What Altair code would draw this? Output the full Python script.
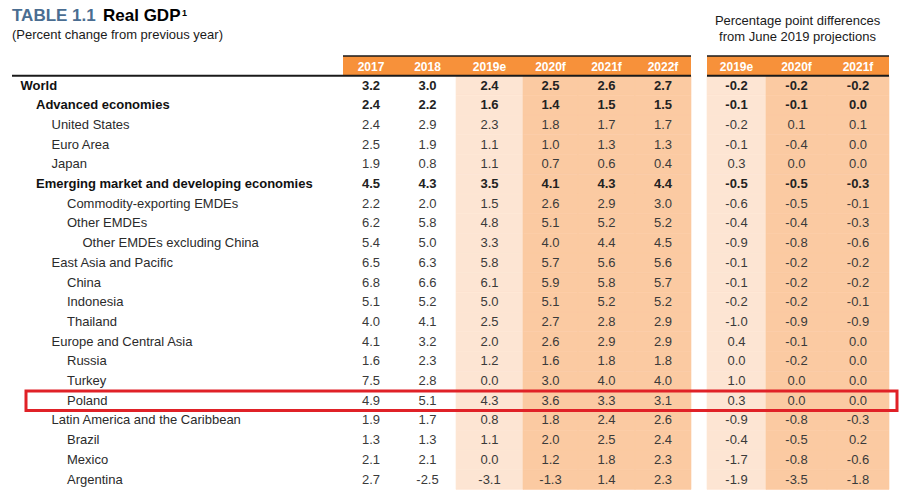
import altair as alt
import pandas as pd

# ---------------- data ----------------
rows = ["World", "Advanced economies", "United States", "Euro Area", "Japan",
        "Emerging market and developing economies", "Commodity-exporting EMDEs",
        "Other EMDEs", "Other EMDEs excluding China", "East Asia and Pacific",
        "China", "Indonesia", "Thailand", "Europe and Central Asia", "Russia",
        "Turkey", "Poland", "Latin America and the Caribbean", "Brazil",
        "Mexico", "Argentina"]
indent = [0, 1, 2, 2, 2, 1, 3, 3, 4, 2, 3, 3, 3, 2, 3, 3, 3, 2, 3, 3, 3]
bold_rows = ["World", "Advanced economies", "Emerging market and developing economies"]

headers = ["2017", "2018", "2019e", "2020f", "2021f", "2022f", "2019e", "2020f", "2021f"]
col_ids = ["y2017", "y2018", "y2019e", "y2020f", "y2021f", "y2022f", "d2019e", "d2020f", "d2021f"]

y2017 = [3.2, 2.4, 2.4, 2.5, 1.9, 4.5, 2.2, 6.2, 5.4, 6.5, 6.8, 5.1, 4.0, 4.1, 1.6, 7.5, 4.9, 1.9, 1.3, 2.1, 2.7]
y2018 = [3.0, 2.2, 2.9, 1.9, 0.8, 4.3, 2.0, 5.8, 5.0, 6.3, 6.6, 5.2, 4.1, 3.2, 2.3, 2.8, 5.1, 1.7, 1.3, 2.1, -2.5]
y2019e = [2.4, 1.6, 2.3, 1.1, 1.1, 3.5, 1.5, 4.8, 3.3, 5.8, 6.1, 5.0, 2.5, 2.0, 1.2, 0.0, 4.3, 0.8, 1.1, 0.0, -3.1]
y2020f = [2.5, 1.4, 1.8, 1.0, 0.7, 4.1, 2.6, 5.1, 4.0, 5.7, 5.9, 5.1, 2.7, 2.6, 1.6, 3.0, 3.6, 1.8, 2.0, 1.2, -1.3]
y2021f = [2.6, 1.5, 1.7, 1.3, 0.6, 4.3, 2.9, 5.2, 4.4, 5.6, 5.8, 5.2, 2.8, 2.9, 1.8, 4.0, 3.3, 2.4, 2.5, 1.8, 1.4]
y2022f = [2.7, 1.5, 1.7, 1.3, 0.4, 4.4, 3.0, 5.2, 4.5, 5.6, 5.7, 5.2, 2.9, 2.9, 1.8, 4.0, 3.1, 2.6, 2.4, 2.3, 2.3]
d2019e = [-0.2, -0.1, -0.2, -0.1, 0.3, -0.5, -0.6, -0.4, -0.9, -0.1, -0.1, -0.2, -1.0, 0.4, 0.0, 1.0, 0.3, -0.9, -0.4, -1.7, -1.9]
d2020f = [-0.2, -0.1, 0.1, -0.4, 0.0, -0.5, -0.5, -0.4, -0.8, -0.2, -0.2, -0.2, -0.9, -0.1, -0.2, 0.0, 0.0, -0.8, -0.5, -0.8, -3.5]
d2021f = [-0.2, 0.0, 0.1, 0.0, 0.0, -0.3, -0.1, -0.3, -0.6, -0.2, -0.2, -0.1, -0.9, 0.0, 0.0, 0.0, 0.0, -0.3, 0.2, -0.6, -1.8]
series = [y2017, y2018, y2019e, y2020f, y2021f, y2022f, d2019e, d2020f, d2021f]

highlight_row = "Poland"

# ---------------- layout (pixel geometry, separate from data) ----------------
W, H = 904, 483
col_left = [343, 399, 456, 523, 578, 635, 707, 766, 827]
col_right = [399, 456, 523, 578, 635, 691, 766, 827, 889]
col_shade = ["none", "none", "light", "dark", "dark", "dark", "light", "dark", "dark"]
label_x0, label_step = 20.5, 15.5
row_top, row_h = 56 - 8, 19.7
HDR = "__hdr"
FONT = "Liberation Sans"

ORANGE = "#f7913a"
DARK = "#fbcaa2"
LIGHT = "#fde5d3"
TXT = "#2b2b2b"

xs = alt.Scale(domain=[8, 8 + W], range=[0, W])
ydomain = [HDR] + rows
ys = alt.Scale(domain=ydomain, range=[row_top, row_top + row_h * len(ydomain)],
               paddingInner=0, paddingOuter=0)

# ---------------- tables ----------------
cells = []
for ci, cid in enumerate(col_ids):
    for ri, r in enumerate(rows):
        cells.append({
            "row": r, "col": cid,
            "xc": (col_left[ci] + col_right[ci]) / 2,
            "val": f"{series[ci][ri]:.1f}",
            "bold": r in bold_rows,
        })
cells = pd.DataFrame(cells)

shade = []
for ci, cid in enumerate(col_ids):
    if col_shade[ci] == "none":
        continue
    for r in rows:
        shade.append({"row": r, "x0": col_left[ci], "x1": col_right[ci], "kind": col_shade[ci]})
shade = pd.DataFrame(shade)

hdr = pd.DataFrame({
    "row": [HDR] * len(headers), "h": headers,
    "x0": col_left, "x1": col_right,
    "xc": [(a + b) / 2 for a, b in zip(col_left, col_right)],
})
hdr_groups = pd.DataFrame({"row": [HDR, HDR], "x0": [343, 707], "x1": [691, 889]})
bottom_lines = pd.DataFrame({"row": [rows[0], rows[0]], "x0": [12, 707], "x1": [691, 889]})

labels = pd.DataFrame({
    "row": rows,
    "x": [label_x0 + label_step * i for i in indent],
    "bold": [r in bold_rows for r in rows],
})

box = pd.DataFrame({"row": [highlight_row], "x0": [26], "x1": [897]})

Y = alt.Y("row:N", scale=ys, axis=None)

shade_layer = alt.Chart(shade).mark_rect(strokeWidth=0.6).encode(
    x=alt.X("x0:Q", scale=xs, axis=None), x2="x1:Q", y=Y,
    color=alt.Color("kind:N", scale=alt.Scale(domain=["light", "dark"], range=[LIGHT, DARK]), legend=None),
    stroke=alt.Stroke("kind:N", scale=alt.Scale(domain=["light", "dark"], range=[LIGHT, DARK]), legend=None),
)

hdr_rect = alt.Chart(hdr_groups).mark_rect(color=ORANGE).encode(
    x=alt.X("x0:Q", scale=xs, axis=None), x2="x1:Q", y=Y)

top_rule = alt.Chart(hdr_groups).mark_rule(color="#1a1a1a", strokeWidth=1.6).encode(
    x=alt.X("x0:Q", scale=xs, axis=None), x2="x1:Q",
    y=alt.Y("row:N", scale=ys, axis=None, bandPosition=0))

bottom_rule = alt.Chart(bottom_lines).mark_rule(color="#1a1a1a", strokeWidth=2).encode(
    x=alt.X("x0:Q", scale=xs, axis=None), x2="x1:Q",
    y=alt.Y("row:N", scale=ys, axis=None, bandPosition=0))

hdr_text = alt.Chart(hdr).mark_text(font=FONT, fontSize=12, fontWeight="bold",
                                    color="white", baseline="middle", dy=1).encode(
    x=alt.X("xc:Q", scale=xs, axis=None), y=Y, text="h:N")

label_reg = alt.Chart(labels[~labels["bold"]]).mark_text(
    font=FONT, fontSize=13, align="left", baseline="middle", color=TXT).encode(
    x=alt.X("x:Q", scale=xs, axis=None), y=Y, text="row:N")
label_bold = alt.Chart(labels[labels["bold"]]).mark_text(
    font=FONT, fontSize=13, fontWeight="bold", align="left", baseline="middle", color="#111111").encode(
    x=alt.X("x:Q", scale=xs, axis=None), y=Y, text="row:N")

val_reg = alt.Chart(cells[~cells["bold"]]).mark_text(
    font=FONT, fontSize=13, baseline="middle", color="#3a3a3a").encode(
    x=alt.X("xc:Q", scale=xs, axis=None), y=Y, text="val:N")
val_bold = alt.Chart(cells[cells["bold"]]).mark_text(
    font=FONT, fontSize=13, fontWeight="bold", baseline="middle", color="#222222").encode(
    x=alt.X("xc:Q", scale=xs, axis=None), y=Y, text="val:N")

box_layer = alt.Chart(box).mark_rect(fillOpacity=0, stroke="#e02127", strokeWidth=3).encode(
    x=alt.X("x0:Q", scale=xs, axis=None), x2="x1:Q", y=Y)

# titles (annotation text)
TB = 21  # title baseline (page px)
t1 = alt.Chart(pd.DataFrame({"t": ["TABLE 1.1"]})).mark_text(
    font=FONT, fontSize=17, fontWeight="bold", color="#4a6d91", align="left", baseline="alphabetic").encode(
    x=alt.value(12 - 8), y=alt.value(TB - 8), text="t:N")
t2 = alt.Chart(pd.DataFrame({"t": ["Real GDP"]})).mark_text(
    font=FONT, fontSize=17, fontWeight="bold", color="#000000", align="left", baseline="alphabetic").encode(
    x=alt.value(103 - 8), y=alt.value(TB - 8), text="t:N")
t3 = alt.Chart(pd.DataFrame({"t": ["1"]})).mark_text(
    font=FONT, fontSize=9, fontWeight="bold", color="#000000", align="left", baseline="alphabetic").encode(
    x=alt.value(182 - 8), y=alt.value(TB - 5 - 8), text="t:N")
sub = alt.Chart(pd.DataFrame({"t": ["(Percent change from previous year)"]})).mark_text(
    font=FONT, fontSize=13, color="#1a1a1a", align="left", baseline="alphabetic").encode(
    x=alt.value(12 - 8), y=alt.value(39 - 8), text="t:N")
rt1 = alt.Chart(pd.DataFrame({"t": ["Percentage point differences"]})).mark_text(
    font=FONT, fontSize=13, color="#1a1a1a", align="center", baseline="alphabetic").encode(
    x=alt.value(797.5 - 8), y=alt.value(25 - 8), text="t:N")
rt2 = alt.Chart(pd.DataFrame({"t": ["from June 2019 projections"]})).mark_text(
    font=FONT, fontSize=13, color="#1a1a1a", align="center", baseline="alphabetic").encode(
    x=alt.value(797.5 - 8), y=alt.value(41 - 8), text="t:N")

chart = alt.layer(
    shade_layer, hdr_rect, top_rule, bottom_rule, hdr_text,
    label_reg, label_bold, val_reg, val_bold, box_layer,
    t1, t2, t3, sub, rt1, rt2,
).properties(
    width=W, height=H, padding=0, autosize=alt.AutoSizeParams(type="none"),
    background="white",
).configure_view(stroke=None).resolve_scale(color="independent", stroke="independent")

chart.save("out.html", embed_options={"renderer": "svg", "actions": False})
